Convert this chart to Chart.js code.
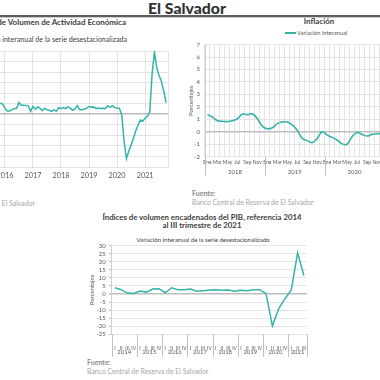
<!DOCTYPE html>
<html><head><meta charset="utf-8">
<script src="https://cdn.jsdelivr.net/npm/chart.js@4/dist/chart.umd.min.js"></script>
<style>
html,body{margin:0;padding:0;background:#fff;}
#wrap{position:relative;width:380px;height:380px;overflow:hidden;font-family:Lato,sans-serif;}
.t{position:absolute;white-space:nowrap;line-height:1;}
canvas{position:absolute;}
.b{font-weight:bold;color:#404040;}
.src1{font-weight:bold;color:#8c8c8c;font-size:7px;}
.src2{color:#a6a6a6;font-size:6.9px;}
</style></head><body><div id="wrap">
<div class="t" style="left:0;width:374px;top:-0.5px;text-align:center;font-size:15.8px;font-weight:900;color:#333">El Salvador</div>
<div style="position:absolute;left:0;top:15px;width:380px;height:2px;background:#5e5e5e"></div>
<div style="position:absolute;left:0;top:17px;width:380px;height:1px;background:#cccccc"></div>

<div class="t b" style="right:254px;top:18px;font-size:8px;text-align:right">Índice de Volumen de  Actividad Económica</div>
<div class="t" style="right:253px;top:35.6px;font-size:7.15px;color:#404040;text-align:right">Variación interanual de la serie desestacionalizada</div>
<div class="t src2" style="right:345px;top:199.5px;text-align:right">Banco Central de Reserva de El Salvador</div>

<div class="t b" style="left:269px;width:100px;top:18px;font-size:7.9px;text-align:center">Inflación</div>
<div style="position:absolute;left:285px;top:32px;width:11px;height:2px;background:#36b3a8"></div>
<div class="t" style="left:297px;top:30px;font-size:5.8px;color:#595959">Variación interanual</div>
<div class="t src1" style="left:192px;top:189.8px">Fuente:</div>
<div class="t src2" style="left:192px;top:199.2px">Banco Central de Reserva de El Salvador</div>

<div class="t b" style="left:102px;width:200px;top:214.3px;font-size:7.8px;line-height:7.8px;text-align:center">Índices de volumen encadenados del PIB, referencia 2014<br>al III trimestre de 2021</div>
<div class="t" style="left:103px;width:200px;top:236.5px;font-size:6.1px;color:#404040;text-align:center">Variación interanual de la serie desestacionalizado</div>
<div class="t src1" style="left:87px;top:359.2px">Fuente:</div>
<div class="t src2" style="left:87px;top:368.2px">Banco Central de Reserva de El Salvador</div>

<canvas id="c1" width="203" height="134" style="left:-30px;top:51px"></canvas>
<canvas id="c2" width="205" height="150" style="left:180px;top:36px"></canvas>
<canvas id="c3" width="229" height="120" style="left:80px;top:238px"></canvas>
</div>
<script>
// ---------- data ----------
// IVAE: monthly, first value = Nov 2015 (month index -2, Jan 2016 = 0)
const ivaeFirstMonth = -2;
const ivaeValues = [5.2,4.9,
 2.9,1.6,1.6,2.1,2.7,2.7,5.6,4.3,4.3,4.1,4.0,1.4,
 3.7,2.4,3.5,2.9,1.7,2.9,2.1,1.9,1.4,2.1,1.4,3.2,
 2.7,3.2,2.7,3.5,2.9,1.9,2.5,4.1,2.1,2.1,2.5,2.9,
 3.7,3.3,3.5,2.7,3.0,2.7,2.9,2.7,4.0,3.3,4.1,3.2,
 3.0,2.9,-0.3,-13.0,-21.0,-17.5,-14.6,-11.4,-7.8,-5.1,-2.7,-3.2,
 -1.9,-1.0,1.3,19.5,29.5,21.9,18.3,15.6,10.8,5.5];
const ivaeYearLabels = ['2016','2017','2018','2019','2020','2021'];

// Inflación: monthly 2018-2020
const inflMonthNames = ['Ene','Feb','Mar','Abr','May','Jun','Jul','Ago','Sep','Oct','Nov','Dic'];
const inflYears = ['2018','2019','2020'];
const inflValues = [
 1.37,1.18,0.89,0.84,0.82,0.89,1.05,1.42,1.37,1.45,1.05,0.45,
 0.24,0.32,0.66,0.79,0.79,0.55,0.13,-0.53,-0.71,-0.87,-0.53,0.0,
 -0.26,-0.45,-0.66,-0.97,-1.0,-0.39,-0.05,-0.21,-0.34,-0.21,-0.16,-0.12];

// PIB: quarterly 2014 Q1 - 2021 Q3
const pibQuarterNames = ['I','II','III','IV'];
const pibYears = ['2014','2015','2016','2017','2018','2019','2020','2021'];
const pibQuartersPerYear = [4,4,4,4,4,4,4,3];
const pibValues = [3.9,2.7,0.6,0.4, 1.9,1.2,3.1,3.3, 0.8,3.9,2.7,2.7, 3.1,1.7,2.1,2.5,
 2.7,2.3,2.5,1.7, 2.3,2.1,2.7,2.7, 0.2,-19.8,-9.1,-2.9, 2.5,25.5,11.5];

// ---------- styling ----------
const TEAL = '#36b3a8';
const GRID = '#e4e4e4';
const ZERO = '#bdbdbd';
const TICK = '#595959';
Chart.defaults.font.family = 'Lato, sans-serif';
Chart.defaults.animation = false;
const gridColor = c => c.tick && c.tick.value === 0 ? ZERO : GRID;
const gridWidth = c => c.tick && c.tick.value === 0 ? 1.6 : 1;

// plugin: grouped second-level category labels (years) under category axis
const groupPlugin = {
  id: 'groups',
  afterDraw(chart, args, o) {
    if (!o || !o.labels) return;
    const x = chart.scales.x, ctx = chart.ctx;
    const half = (x.getPixelForValue(1) - x.getPixelForValue(0)) / 2;
    const top = chart.chartArea.bottom;
    ctx.save();
    ctx.strokeStyle = o.lineColor; ctx.lineWidth = 1;
    ctx.fillStyle = TICK; ctx.font = o.font;
    ctx.textAlign = 'center'; ctx.textBaseline = 'middle';
    let idx = 0;
    const line = px => { const p = Math.round(px) + 0.5; ctx.beginPath(); ctx.moveTo(p, top); ctx.lineTo(p, top + o.lineLen); ctx.stroke(); };
    o.labels.forEach((lab, i) => {
      const n = o.sizes[i];
      const x0 = x.getPixelForValue(idx) - half;
      const x1 = x.getPixelForValue(idx + n - 1) + half;
      line(x0);
      ctx.fillText(lab, (x0 + x1) / 2, top + o.textOffset);
      idx += n;
      if (i === o.labels.length - 1) line(x1);
    });
    ctx.restore();
  }
};

// ---------- chart 1: IVAE ----------
new Chart(document.getElementById('c1'), {
  type: 'line',
  data: { datasets: [{
    data: ivaeValues.map((v, i) => ({x: ivaeFirstMonth + i, y: v})),
    borderColor: TEAL, borderWidth: 1.5, pointRadius: 0, tension: 0, fill: false }] },
  options: {
    responsive: false, layout: {padding: 0},
    plugins: {legend: {display: false}, tooltip: {enabled: false}},
    scales: {
      x: { type: 'linear', min: -2.1, max: 70,
        afterBuildTicks: s => { s.ticks = [0,12,24,36,48,60,70].map(v => ({value: v})); },
        afterFit: s => { s.height = 18; },
        ticks: { font: {size: 7.3}, color: TICK, padding: 4.5, maxRotation: 0, autoSkip: false,
          callback: v => (v % 12 === 0 ? ivaeYearLabels[v / 12] : '') },
        grid: { color: GRID, drawTicks: false }, border: {display: false} },
      y: { min: -25, max: 30,
        afterFit: s => { s.width = 30; },
        ticks: { stepSize: 5, display: false },
        grid: { color: gridColor, lineWidth: gridWidth, drawTicks: false }, border: {display: false} }
    }
  }
});

// ---------- chart 2: Inflación ----------
const inflLabels = [];
inflYears.forEach(y => inflMonthNames.forEach(m => inflLabels.push(m)));
new Chart(document.getElementById('c2'), {
  type: 'line',
  data: { labels: inflLabels, datasets: [{ label: 'Variación interanual',
    data: inflValues, borderColor: TEAL, borderWidth: 1.6, pointRadius: 0, tension: 0.4, fill: false }] },
  options: {
    responsive: false, layout: {padding: {top: 8}},
    plugins: {legend: {display: false}, tooltip: {enabled: false},
      groups: { labels: inflYears, sizes: [12,12,12], font: '6px Lato, sans-serif', lineColor: '#bfbfbf', lineLen: 19.5, textOffset: 15.5 }},
    scales: {
      x: { offset: true, afterFit: s => { s.height = 29.3; },
        ticks: { font: {size: 5}, color: TICK, padding: 3, maxRotation: 0, minRotation: 0, autoSkip: false,
          callback: (v, i) => (i % 2 === 0 ? inflLabels[i] : '') },
        grid: { color: GRID, drawTicks: false, offset: true }, border: {display: false} },
      y: { min: -2, max: 7,
        afterFit: s => { s.width = 25; },
        title: { display: true, text: 'Porcentajes', font: {size: 6}, color: TICK, padding: {top: 7, bottom: 0} },
        ticks: { stepSize: 1, font: {size: 6}, color: TICK, padding: 5, autoSkip: false },
        grid: { color: gridColor, lineWidth: gridWidth, drawTicks: false }, border: {display: true, color: '#cfcfcf'} }
    }
  },
  plugins: [groupPlugin]
});

// ---------- chart 3: PIB ----------
const pibLabels = [];
pibQuartersPerYear.forEach(n => { for (let q = 0; q < n; q++) pibLabels.push(pibQuarterNames[q]); });
new Chart(document.getElementById('c3'), {
  type: 'line',
  data: { labels: pibLabels, datasets: [{ data: pibValues, borderColor: TEAL, borderWidth: 1.5, pointRadius: 0, tension: 0, fill: false }] },
  options: {
    responsive: false, layout: {padding: {top: 7.7}},
    plugins: {legend: {display: false}, tooltip: {enabled: false},
      groups: { labels: pibYears, sizes: pibQuartersPerYear, font: '6px Lato, sans-serif', lineColor: '#bfbfbf', lineLen: 22.5, textOffset: 18 }},
    scales: {
      x: { offset: true, afterFit: s => { s.height = 23.7; },
        ticks: { font: {size: 5}, color: TICK, padding: 3, maxRotation: 0, minRotation: 0, autoSkip: false },
        grid: { display: false }, border: {display: false} },
      y: { min: -25, max: 30,
        afterFit: s => { s.width = 31.7; },
        title: { display: true, text: 'Porcentajes', font: {size: 6}, color: TICK, padding: {top: 8, bottom: 0} },
        ticks: { stepSize: 5, font: {size: 6}, color: TICK, padding: 3, autoSkip: false },
        grid: { color: gridColor, lineWidth: gridWidth, drawTicks: true, tickLength: 3, tickColor: '#bfbfbf' },
        border: {display: true, color: '#cfcfcf'} }
    }
  },
  plugins: [groupPlugin]
});
</script>
</body></html>
